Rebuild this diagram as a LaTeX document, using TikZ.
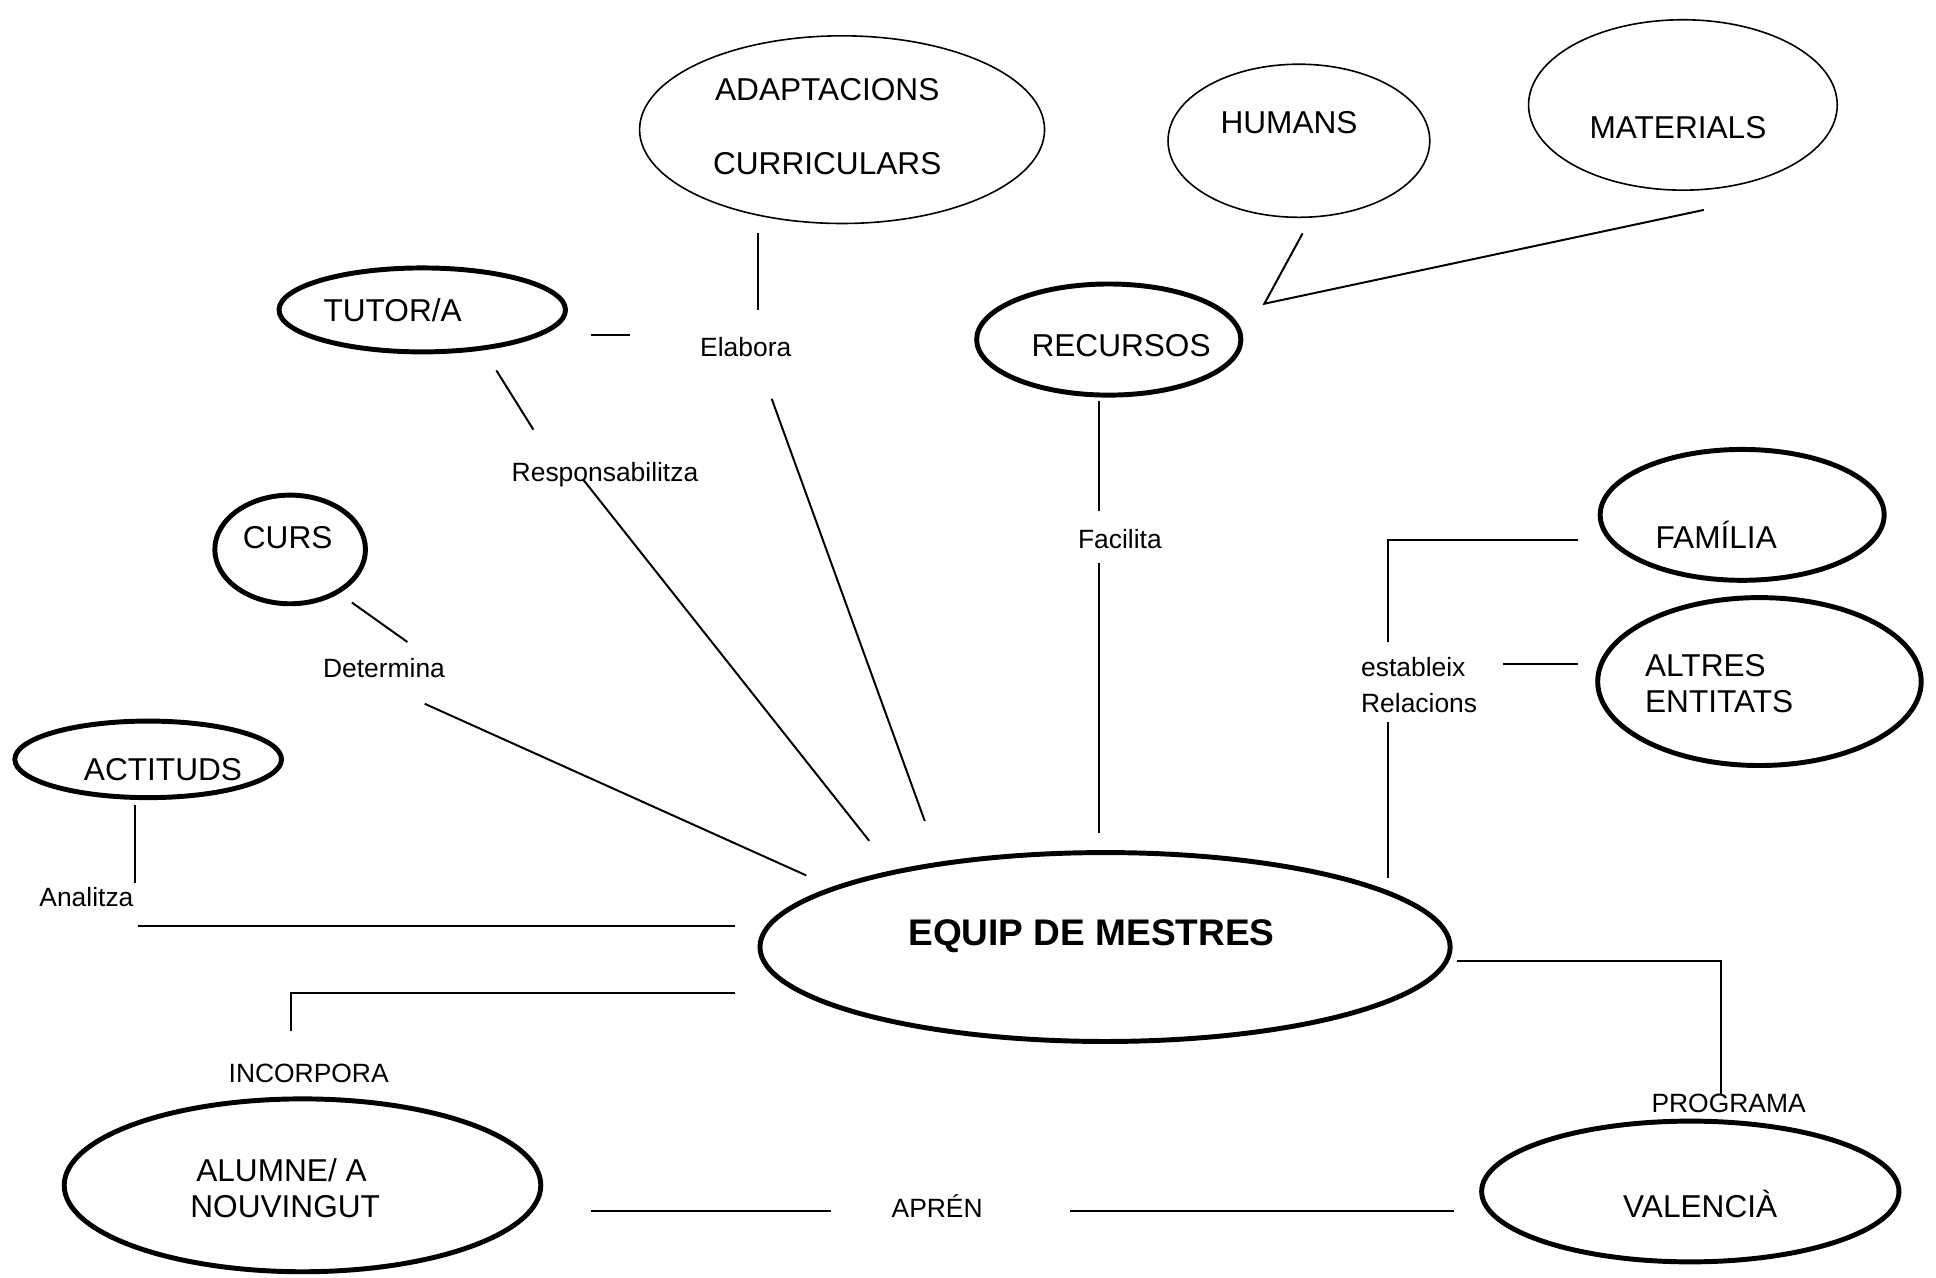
\documentclass[tikz,border=0pt]{standalone}
\usepackage{fontspec}
\setmainfont{Liberation Sans}
\usetikzlibrary{shapes.geometric}
\begin{document}
\begin{tikzpicture}[x=0.5pt,y=-0.5pt,
  thinell/.style={ellipse,draw,line width=0.65pt,inner sep=0pt},
  thickell/.style={ellipse,draw,line width=2pt,inner sep=0pt},
  big/.style={font=\fontsize{12.8}{15}\selectfont,inner sep=0pt,anchor=base},
  small/.style={font=\fontsize{10.7}{13}\selectfont,inner sep=0pt,anchor=base},
  conn/.style={line width=0.8pt}]
\useasboundingbox (0,0) rectangle (1568,1034.3);
% ellipses
\node[thinell,minimum width=164pt,minimum height=76pt] (adapt) at (682,105) {};
\node[thinell,minimum width=106pt,minimum height=62pt] (humans) at (1052,114) {};
\node[thinell,minimum width=125pt,minimum height=69pt] (materials) at (1363,85) {};
\node[thickell,minimum width=116pt,minimum height=34pt] (tutor) at (342,251) {};
\node[thickell,minimum width=107pt,minimum height=45pt] (recursos) at (898,275) {};
\node[thickell,minimum width=61pt,minimum height=44pt] (curs) at (235,445) {};
\node[thickell,minimum width=115pt,minimum height=53pt] (familia) at (1411,417) {};
\node[thickell,minimum width=131pt,minimum height=68pt] (altres) at (1425,552) {};
\node[thickell,minimum width=108pt,minimum height=31pt] (actituds) at (120,615) {};
\node[thickell,minimum width=279.5pt,minimum height=76.5pt] (equip) at (895,767) {};
\node[thickell,minimum width=193pt,minimum height=70pt] (alumne) at (245,960) {};
\node[thickell,minimum width=169pt,minimum height=57pt] (valencia) at (1369,965) {};
% texts
\node[big] (tAdapt1) at (670,81) {ADAPTACIONS};
\node[big] (tAdapt2) at (670,141) {CURRICULARS};
\node[big] (tHumans) at (1044,108) {HUMANS};
\node[big] (tMaterials) at (1359,112) {MATERIALS};
\node[big] (tTutor) at (318,260) {TUTOR/A};
\node[big] (tRecursos) at (908,289) {RECURSOS};
\node[big] (tCurs) at (233,444) {CURS};
\node[big] (tFamilia) at (1390,444) {FAMÍLIA};
\node[big,anchor=base west] (tAltres1) at (1332,548) {ALTRES};
\node[big,anchor=base west] (tAltres2) at (1332,577) {ENTITATS};
\node[big] (tActituds) at (132,632) {ACTITUDS};
\node[font=\bfseries\fontsize{15}{18}\selectfont,inner sep=0pt,anchor=base] (tEquip) at (884,766) {EQUIP DE MESTRES};
\node[big] (tAlumne1) at (228,957) {ALUMNE/ A};
\node[big] (tAlumne2) at (231,986) {NOUVINGUT};
\node[big] (tValencia) at (1377,986) {VALENCIÀ};
\node[small] (lElabora) at (604,289) {Elabora};
\node[small] (lResp) at (490,390) {Responsabilitza};
\node[small] (lDetermina) at (311,549) {Determina};
\node[small] (lFacilita) at (907,444) {Facilita};
\node[small,anchor=base west] (lEstableix) at (1102,548) {estableix};
\node[small,anchor=base west] (lRelacions) at (1102,577) {Relacions};
\node[small] (lAnalitza) at (70,734) {Analitza};
\node[small] (lIncorpora) at (250,877) {INCORPORA};
\node[small] (lPrograma) at (1400,901) {PROGRAMA};
\node[small] (lApren) at (759,986) {APRÉN};
% connector end points
\coordinate (a1) at (614,189); \coordinate (a2) at (614,251);
\coordinate (b1) at (479,271); \coordinate (b2) at (510,271);
\coordinate (c1) at (625,323); \coordinate (c2) at (749,665);
\coordinate (d1) at (402,300); \coordinate (d2) at (432,348);
\coordinate (e1) at (472,388); \coordinate (e2) at (704,681);
\coordinate (f1) at (285,488); \coordinate (f2) at (330,520);
\coordinate (g1) at (344,570); \coordinate (g2) at (653,709);
\coordinate (h1) at (109,652); \coordinate (h2) at (109,715);
\coordinate (i1) at (112,750); \coordinate (i2) at (595,750);
\coordinate (j1) at (1055,189); \coordinate (jm) at (1024,246); \coordinate (j2) at (1380,170);
\coordinate (k1) at (890,325); \coordinate (k2) at (890,414);
\coordinate (l1) at (890,456); \coordinate (l2) at (890,675);
\coordinate (m1) at (1278,437); \coordinate (mm) at (1124,437); \coordinate (m2) at (1124,520);
\coordinate (n1) at (1217,538); \coordinate (n2) at (1278,538);
\coordinate (o1) at (1124,585); \coordinate (o2) at (1124,711);
\coordinate (p1) at (595,804); \coordinate (pm) at (236,804); \coordinate (p2) at (236,835);
\coordinate (q1) at (1180,778); \coordinate (qm) at (1394,778); \coordinate (q2) at (1394,887);
\coordinate (r1) at (479,981); \coordinate (r2) at (673,981);
\coordinate (s1) at (867,981); \coordinate (s2) at (1178,981);
% connectors
\draw[conn] (a1) -- (a2);
\draw[conn] (b1) -- (b2);
\draw[conn] (c1) -- (c2);
\draw[conn] (d1) -- (d2);
\draw[conn] (e1) -- (e2);
\draw[conn] (f1) -- (f2);
\draw[conn] (g1) -- (g2);
\draw[conn] (h1) -- (h2);
\draw[conn] (i1) -- (i2);
\draw[conn] (j1) -- (jm) -- (j2);
\draw[conn] (k1) -- (k2);
\draw[conn] (l1) -- (l2);
\draw[conn] (m1) -- (mm) -- (m2);
\draw[conn] (n1) -- (n2);
\draw[conn] (o1) -- (o2);
\draw[conn] (p1) -- (pm) -- (p2);
\draw[conn] (q1) -- (qm) -- (q2);
\draw[conn] (r1) -- (r2);
\draw[conn] (s1) -- (s2);
\end{tikzpicture}
\end{document}
